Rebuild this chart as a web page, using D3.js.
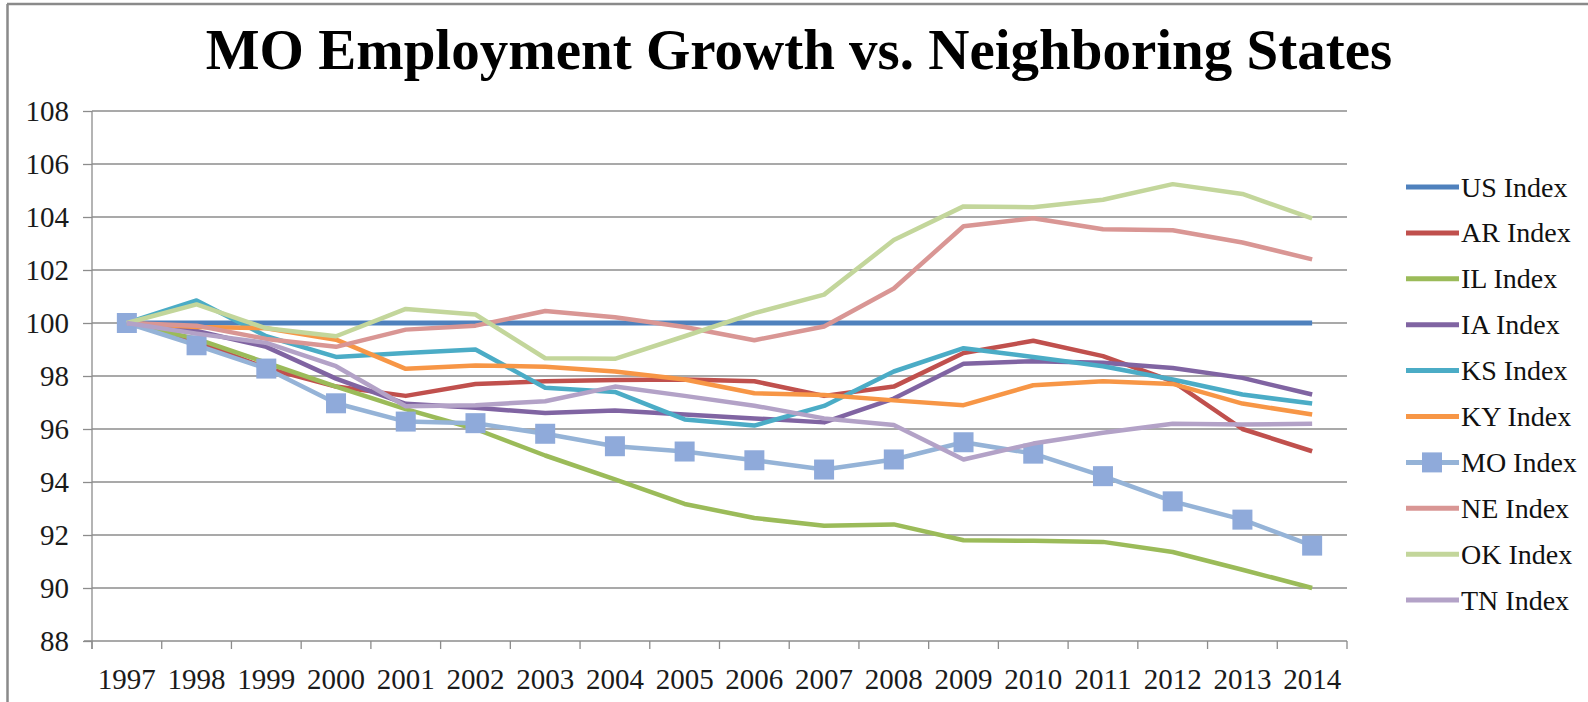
<!DOCTYPE html>
<html>
<head>
<meta charset="utf-8">
<script src="https://cdn.jsdelivr.net/npm/d3@7"></script>
<style>
  html, body { margin: 0; padding: 0; background: #fff; }
  svg { display: block; }
</style>
</head>
<body>
<svg id="chart" width="1588" height="702"></svg>
<script>
// ---- Data ----
const years = ["1997","1998","1999","2000","2001","2002","2003","2004","2005","2006","2007","2008","2009","2010","2011","2012","2013","2014"];
const yTicks = [88, 90, 92, 94, 96, 98, 100, 102, 104, 106, 108];
const seriesNames = ["US Index","AR Index","IL Index","IA Index","KS Index","KY Index","MO Index","NE Index","OK Index","TN Index"];
const seriesColors = ["#4F81BD","#C0504D","#9BBB59","#8064A2","#4BACC6","#F79646","#95B3D7","#D99694","#C3D69B","#B3A2C7"];
const usIndex = [100,100,100,100,100,100,100,100,100,100,100,100,100,100,100,100,100,100];
const arIndex = [100,99.3,98.3,97.6,97.25,97.7,97.8,97.85,97.87,97.8,97.25,97.6,98.87,99.33,98.75,97.8,96.0,95.16];
const ilIndex = [100,99.4,98.5,97.6,96.75,96.0,95.0,94.1,93.17,92.64,92.35,92.4,91.8,91.78,91.74,91.36,90.69,90.0];
const iaIndex = [100,99.7,99.1,97.9,96.95,96.8,96.6,96.7,96.55,96.4,96.25,97.15,98.46,98.56,98.5,98.3,97.93,97.3];
const ksIndex = [100,100.85,99.5,98.72,98.87,99.0,97.56,97.4,96.36,96.13,96.87,98.17,99.05,98.72,98.37,97.87,97.3,96.96];
const kyIndex = [100,99.85,99.8,99.37,98.27,98.4,98.35,98.17,97.87,97.35,97.28,97.08,96.9,97.65,97.8,97.7,96.96,96.55];
const moIndex = [100,99.16,98.28,96.97,96.28,96.22,95.82,95.35,95.15,94.82,94.47,94.85,95.5,95.07,94.22,93.27,92.58,91.6];
const neIndex = [100,99.9,99.4,99.1,99.75,99.9,100.45,100.22,99.85,99.35,99.87,101.3,103.65,103.95,103.54,103.5,103.04,102.4];
const okIndex = [100,100.7,99.8,99.5,100.53,100.32,98.67,98.65,99.5,100.37,101.07,103.13,104.4,104.37,104.65,105.24,104.87,103.95];
const tnIndex = [100,99.6,99.25,98.37,96.86,96.9,97.05,97.6,97.25,96.88,96.4,96.15,94.85,95.45,95.86,96.2,96.17,96.2];
const seriesValues = [usIndex, arIndex, ilIndex, iaIndex, ksIndex, kyIndex, moIndex, neIndex, okIndex, tnIndex];
const titleText = "MO Employment Growth vs. Neighboring States";

// ---- Layout ----
const svg = d3.select("#chart");
const plot = { left: 92, right: 1347, top: 111, bottom: 641 };
const serif = "'Liberation Serif', 'Times New Roman', serif";
const gridColor = "#8c8c8c";

// outer frame (top & left edges visible)
svg.append("line").attr("x1", 7).attr("x2", 1588).attr("y1", 4).attr("y2", 4)
  .attr("stroke", "#8a8a8a").attr("stroke-width", 2.5);
svg.append("line").attr("x1", 7.5).attr("x2", 7.5).attr("y1", 4).attr("y2", 702)
  .attr("stroke", "#8a8a8a").attr("stroke-width", 2.5);

// title
svg.append("text")
  .attr("x", 799).attr("y", 69)
  .attr("text-anchor", "middle")
  .attr("font-family", serif).attr("font-weight", "bold").attr("font-size", 57)
  .attr("fill", "#000")
  .text(titleText);

const x = d3.scaleBand().domain(years).range([plot.left, plot.right]).paddingInner(0).paddingOuter(0);
const y = d3.scaleLinear().domain([88, 108]).range([plot.bottom, plot.top]);
const cx = d => x(d) + x.bandwidth() / 2;

// gridlines
svg.append("g").selectAll("line").data(yTicks.filter(t => t !== 88)).join("line")
  .attr("x1", plot.left).attr("x2", plot.right)
  .attr("y1", d => y(d)).attr("y2", d => y(d))
  .attr("stroke", gridColor).attr("stroke-width", 1.3);

// y axis
const yAxis = d3.axisLeft(y).tickValues(yTicks).tickSize(9).tickPadding(14).tickFormat(d3.format("d"));
const gy = svg.append("g").attr("transform", `translate(${plot.left},0)`).call(yAxis);
gy.select(".domain").remove();
gy.selectAll(".tick line").attr("stroke", gridColor).attr("stroke-width", 1.3);
gy.selectAll(".tick text").attr("font-family", serif).attr("font-size", 29).attr("fill", "#1a1a1a");
svg.append("line").attr("x1", plot.left).attr("x2", plot.left)
  .attr("y1", plot.top).attr("y2", plot.bottom + 8)
  .attr("stroke", gridColor).attr("stroke-width", 1.3);

// x axis
const xAxis = d3.axisBottom(x).tickSize(0).tickPadding(27);
const gx = svg.append("g").attr("transform", `translate(0,${plot.bottom})`).call(xAxis);
gx.select(".domain").remove();
gx.selectAll(".tick text").attr("font-family", serif).attr("font-size", 29).attr("fill", "#1a1a1a");
svg.append("line").attr("x1", plot.left - 8).attr("x2", plot.right)
  .attr("y1", plot.bottom).attr("y2", plot.bottom)
  .attr("stroke", gridColor).attr("stroke-width", 1.3);
const boundaries = years.map(d => x(d)).concat([x(years[years.length - 1]) + x.bandwidth()]);
svg.append("g").selectAll("line").data(boundaries).join("line")
  .attr("x1", d => d).attr("x2", d => d)
  .attr("y1", plot.bottom).attr("y2", plot.bottom + 8)
  .attr("stroke", gridColor).attr("stroke-width", 1.3);

// series lines
const line = d3.line().x((d, i) => cx(years[i])).y(d => y(d));
const gLines = svg.append("g");
seriesNames.forEach((name, si) => {
  const vals = seriesValues[si];
  gLines.append("path")
    .datum(vals)
    .attr("d", line)
    .attr("fill", "none")
    .attr("stroke", seriesColors[si])
    .attr("stroke-width", si === 0 ? 5 : 4.5)
    .attr("stroke-linejoin", "round");
  if (name === "MO Index") {
    gLines.append("g").selectAll("rect").data(vals).join("rect")
      .attr("x", (d, i) => cx(years[i]) - 10)
      .attr("y", d => y(d) - 10)
      .attr("width", 20).attr("height", 20)
      .attr("fill", "#8FAADA");
  }
});

// legend
const legend = svg.append("g");
seriesNames.forEach((name, i) => {
  const ly = 187 + i * 45.9;
  legend.append("line")
    .attr("x1", 1406).attr("x2", 1459).attr("y1", ly).attr("y2", ly)
    .attr("stroke", seriesColors[i]).attr("stroke-width", 5);
  if (name === "MO Index") {
    legend.append("rect").attr("x", 1422).attr("y", ly - 10).attr("width", 20).attr("height", 20)
      .attr("fill", "#8FAADA");
  }
  legend.append("text")
    .attr("x", 1461).attr("y", ly + 9.5)
    .attr("font-family", serif).attr("font-size", 28).attr("fill", "#111")
    .text(name);
});
</script>
</body>
</html>
